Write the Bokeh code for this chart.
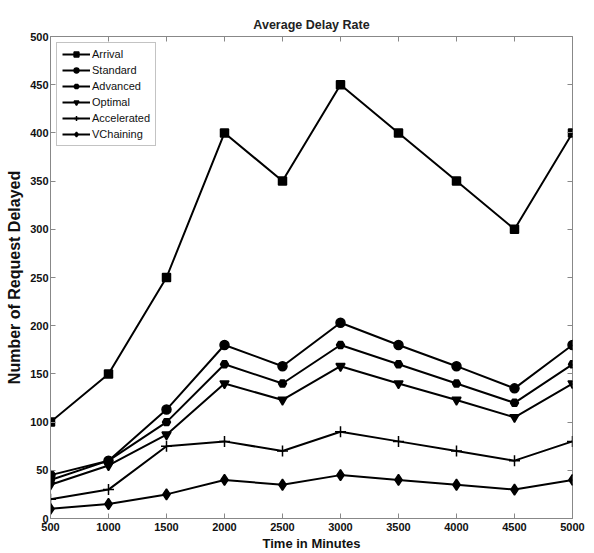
from bokeh.plotting import figure
from bokeh.models import LinearAxis, FixedTicker, Range1d, Legend
from bokeh.embed import file_html
from bokeh.resources import INLINE

time_minutes = [500, 1000, 1500, 2000, 2500, 3000, 3500, 4000, 4500, 5000]
arrival = [100, 150, 250, 400, 350, 450, 400, 350, 300, 400]
standard = [45, 60, 113, 180, 158, 203, 180, 158, 135, 180]
advanced = [40, 60, 100, 160, 140, 180, 160, 140, 120, 160]
optimal = [35, 55, 87, 140, 123, 158, 140, 123, 105, 140]
accelerated = [20, 30, 75, 80, 70, 90, 80, 70, 60, 80]
vchaining = [10, 15, 25, 40, 35, 45, 40, 35, 30, 40]

x_ticks = list(range(500, 5001, 500))
y_ticks = list(range(0, 501, 50))

FONT = "Liberation Sans"

p = figure(width=594, height=553, output_backend="svg", toolbar_location=None,
           x_range=Range1d(500, 5000), y_range=Range1d(0, 500),
           min_border_left=50, min_border_right=22, min_border_top=36, min_border_bottom=35)
p.title.text = "Average Delay Rate"
p.title.align = "center"
p.title.text_font = FONT
p.title.text_font_size = "12.5px"
p.title.text_font_style = "bold"
p.title.text_color = "#222222"
p.title.offset = 0
p.title.standoff = 9
p.xgrid.visible = False
p.ygrid.visible = False
p.outline_line_color = "#888888"
p.background_fill_color = "white"

for ax in (p.xaxis[0], p.yaxis[0]):
    ax.major_tick_in = 5
    ax.major_tick_out = 0
    ax.minor_tick_line_color = None
    ax.axis_line_color = "#888888"
    ax.major_tick_line_color = "#888888"
    ax.major_label_text_font = FONT
    ax.major_label_text_font_style = "bold"
    ax.major_label_text_font_size = "11px"
    ax.major_label_text_color = "#111111"
    ax.axis_label_text_font = FONT
    ax.axis_label_text_font_style = "bold"
    ax.axis_label_text_color = "#111111"

p.xaxis[0].ticker = FixedTicker(ticks=x_ticks)
p.yaxis[0].ticker = FixedTicker(ticks=y_ticks)
p.xaxis[0].axis_label = "Time in Minutes"
p.yaxis[0].axis_label = "Number of Request Delayed"
p.xaxis[0].axis_label_text_font_size = "13px"
p.yaxis[0].axis_label_text_font_size = "16px"
p.xaxis[0].major_label_standoff = 4
p.xaxis[0].axis_label_standoff = 2
p.yaxis[0].major_label_standoff = 2
p.yaxis[0].axis_label_standoff = 4

blank_x = {t: "" for t in x_ticks}
blank_y = {t: "" for t in y_ticks}
top = LinearAxis(ticker=FixedTicker(ticks=x_ticks), major_label_overrides=blank_x,
                 major_tick_in=5, major_tick_out=0, minor_tick_line_color=None,
                 axis_line_color=None, major_tick_line_color="#888888",
                 major_label_standoff=0)
right = LinearAxis(ticker=FixedTicker(ticks=y_ticks), major_label_overrides=blank_y,
                   major_tick_in=5, major_tick_out=0, minor_tick_line_color=None,
                   axis_line_color=None, major_tick_line_color="#888888",
                   major_label_standoff=0)
p.add_layout(top, "above")
p.add_layout(right, "right")

series = [
    ("Arrival", arrival, "square", 8),
    ("Standard", standard, "circle", 9),
    ("Advanced", advanced, "hex", 8),
    ("Optimal", optimal, "inverted_triangle", 9),
    ("Accelerated", accelerated, "cross", 11),
    ("VChaining", vchaining, "diamond", 11),
]

items = []
for name, ys, marker, size in series:
    r1 = p.line(time_minutes, ys, line_color="black", line_width=2)
    r2 = p.scatter(time_minutes, ys, marker=marker, size=size, fill_color="black",
                   line_color="black", line_width=1.5)
    items.append((name, [r1, r2]))

legend = Legend(items=items, location="top_left")
legend.label_text_font = FONT
legend.label_text_font_size = "11px"
legend.label_text_color = "#111111"
legend.glyph_width = 28
legend.glyph_height = 12
legend.label_height = 12
legend.spacing = 4
legend.padding = 5
legend.margin = 6
legend.border_line_color = "#888888"
legend.label_standoff = 2
p.add_layout(legend, "center")

open("out.html", "w").write(file_html(p, INLINE))
